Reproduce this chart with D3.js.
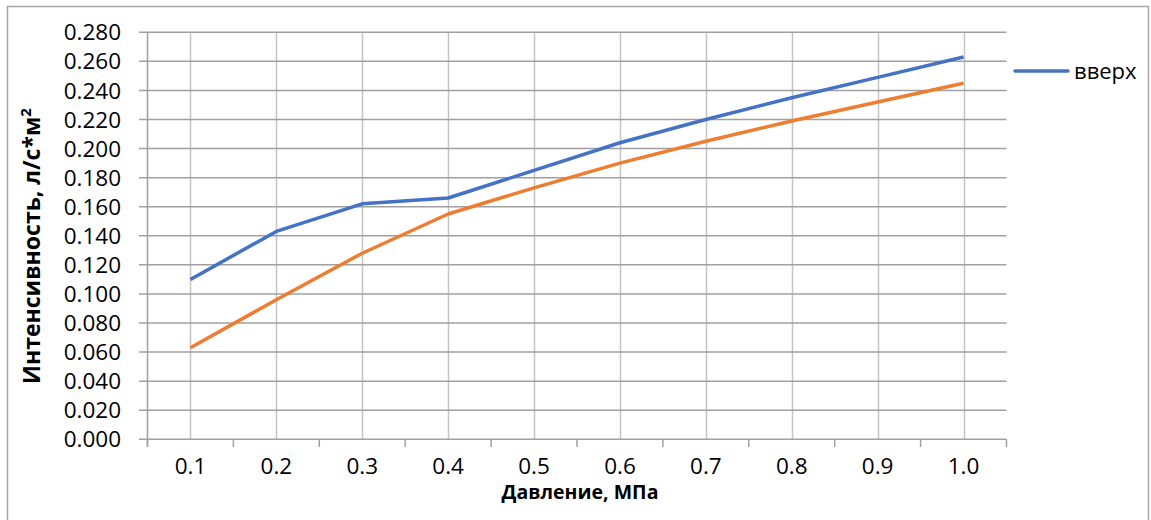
<!DOCTYPE html>
<html><head><meta charset="utf-8">
<script src="https://cdn.jsdelivr.net/npm/d3@7"></script>
<style>
html,body{margin:0;padding:0;background:#fff;}
text{font-family:"Open Sans","Noto Sans",sans-serif;fill:#000;}
</style></head>
<body><svg id="c" width="1151" height="520"></svg>
<script>
const categories = ["0.1","0.2","0.3","0.4","0.5","0.6","0.7","0.8","0.9","1.0"];
const upValues   = [0.110,0.143,0.162,0.166,0.185,0.204,0.220,0.235,0.249,0.263];
const otherValues= [0.063,0.096,0.128,0.155,0.173,0.190,0.205,0.219,0.232,0.245];
const yTicks = [0,0.02,0.04,0.06,0.08,0.10,0.12,0.14,0.16,0.18,0.20,0.22,0.24,0.26,0.28];
const seriesName = "вверх";
const xTitle = "Давление, МПа";
const yTitle = "Интенсивность, л/с*м";

const svg = d3.select("#c");
const L=147.5,R=1006.5,T=32.3,B=439.3;
// outer frame
svg.append("path").attr("d","M7.5,525 V6.5 H1148.5 V525").attr("fill","none").attr("stroke","#a6a6a6").attr("stroke-width",1.5);

const x = d3.scaleBand().domain(categories).range([L,R]).padding(0);
const y = d3.scaleLinear().domain([0,0.28]).range([B,T]);
const cx = c => x(c)+x.bandwidth()/2;

// vertical gridlines at category centres
svg.append("g").selectAll("line").data(categories).join("line")
  .attr("x1",d=>Math.round(cx(d))+0.5).attr("x2",d=>Math.round(cx(d))+0.5)
  .attr("y1",T).attr("y2",B).attr("stroke","#c4c4c4").attr("stroke-width",1.5);
// horizontal gridlines
svg.append("g").selectAll("line").data(yTicks).join("line")
  .attr("x1",139).attr("x2",R).attr("y1",d=>y(d)).attr("y2",d=>y(d))
  .attr("stroke","#a0a0a0").attr("stroke-width",1.5);
// y axis line
svg.append("line").attr("x1",L).attr("x2",L).attr("y1",T).attr("y2",447).attr("stroke","#a0a0a0").attr("stroke-width",1.5);
// x tick marks at boundaries
const bounds = categories.map(c=>x(c)).concat([R]);
svg.append("g").selectAll("line").data(bounds).join("line")
  .attr("x1",d=>d).attr("x2",d=>d).attr("y1",B).attr("y2",447)
  .attr("stroke","#a0a0a0").attr("stroke-width",1.5);

// y tick labels
svg.append("g").selectAll("text").data(yTicks).join("text")
  .attr("x",121).attr("y",d=>y(d)).attr("dy","0.36em").attr("text-anchor","end")
  .attr("font-size",22.5).text(d=>d.toFixed(3));
// x tick labels
svg.append("g").selectAll("text").data(categories).join("text")
  .attr("x",d=>cx(d)).attr("y",474).attr("text-anchor","middle")
  .attr("font-size",22.5).text(d=>d);

// titles
svg.append("text").attr("x",580).attr("y",499).attr("text-anchor","middle")
  .attr("font-size",19.5).attr("font-weight","bold").text(xTitle);
const yt = svg.append("text").attr("transform","translate(40,246) rotate(-90)")
  .attr("text-anchor","middle").attr("font-size",23).attr("font-weight","bold");
yt.append("tspan").text(yTitle);
yt.append("tspan").attr("dy",-9).attr("font-size",15).text("2");

// lines
const line = d3.line().x((d,i)=>cx(categories[i])).y(d=>y(d));
svg.append("path").datum(otherValues).attr("d",line).attr("fill","none")
  .attr("stroke","#ED7D31").attr("stroke-width",3.5).attr("stroke-linejoin","round");
svg.append("path").datum(upValues).attr("d",line).attr("fill","none")
  .attr("stroke","#4472C4").attr("stroke-width",3.5).attr("stroke-linejoin","round");

// legend
svg.append("line").attr("x1",1015).attr("x2",1068).attr("y1",71).attr("y2",71)
  .attr("stroke","#4472C4").attr("stroke-width",3.5).attr("stroke-linecap","round");
svg.append("text").attr("x",1074).attr("y",71).attr("dy","0.36em").attr("font-size",22).text(seriesName);
</script></body></html>
